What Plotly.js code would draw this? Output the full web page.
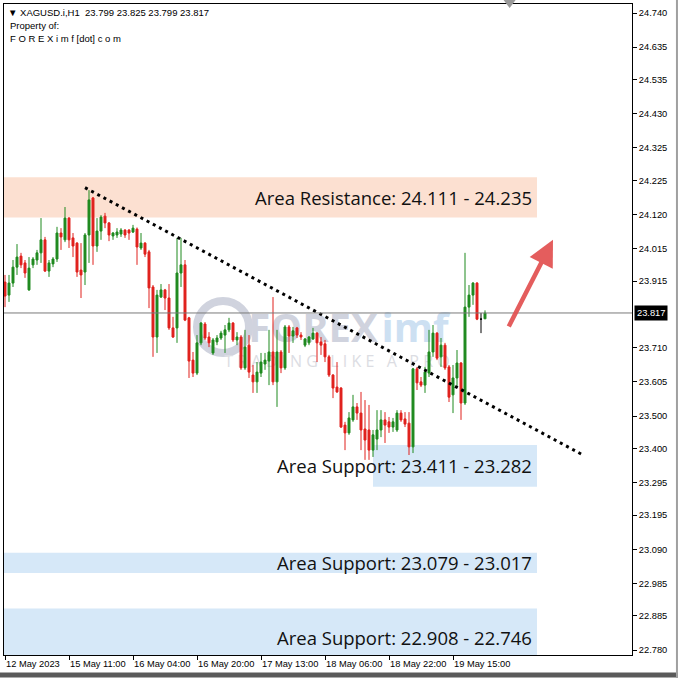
<!DOCTYPE html>
<html>
<head>
<meta charset="utf-8">
<script src="https://cdn.plot.ly/plotly-3.0.1.min.js"></script>
<style>html,body{margin:0;padding:0;background:#fff}#chart{width:678px;height:678px}</style>
</head>
<body>
<div id="chart"></div>
<script>
// ---- data (XAGUSD.i, H1) ----
const symbol = "XAGUSD.i,H1";
const open = [23.912,23.872,23.909,23.958,23.992,23.971,23.888,23.965,23.980,24.002,
24.042,23.946,23.968,23.983,24.063,24.042,24.109,24.048,24.032,23.949,
23.943,24.057,24.171,24.023,24.069,24.115,24.094,24.054,24.057,24.060,
24.072,24.072,24.066,24.075,24.017,24.032,24.005,23.897,23.743,23.866,
23.888,23.863,23.771,23.771,23.940,23.965,23.802,23.672,23.632,23.725,
23.783,23.743,23.694,23.728,23.740,23.749,23.765,23.786,23.734,23.743,
23.648,23.718,23.626,23.605,23.632,23.660,23.669,23.697,23.605,23.697,
23.648,23.774,23.746,23.771,23.749,23.718,23.725,23.737,23.755,23.728,
23.722,23.682,23.626,23.589,23.586,23.472,23.448,23.488,23.528,23.509,
23.460,23.457,23.395,23.429,23.457,23.488,23.482,23.466,23.457,23.509,
23.491,23.478,23.405,23.645,23.605,23.595,23.632,23.697,23.755,23.682,
23.718,23.651,23.565,23.617,23.663,23.540,23.835,23.872,23.909,23.798,
23.799];
const high = [23.934,23.934,23.980,24.029,24.002,23.980,23.989,23.989,24.011,24.109,
24.051,23.980,23.989,24.082,24.078,24.143,24.112,24.063,24.035,24.032,
24.063,24.195,24.174,24.109,24.118,24.125,24.097,24.066,24.078,24.078,
24.075,24.075,24.088,24.080,24.063,24.035,24.011,23.903,23.888,23.906,
23.891,23.906,23.805,24.048,24.048,23.980,23.805,23.697,23.749,23.789,
23.789,23.758,23.740,23.749,23.762,23.780,23.802,23.789,23.758,23.749,
23.765,23.749,23.657,23.666,23.694,23.694,23.765,23.866,23.765,23.703,
23.780,23.780,23.774,23.774,23.758,23.740,23.746,23.771,23.758,23.743,
23.734,23.688,23.629,23.666,23.589,23.482,23.512,23.565,23.540,23.574,
23.549,23.534,23.457,23.518,23.518,23.512,23.497,23.494,23.518,23.518,
23.512,23.512,23.648,23.651,23.620,23.651,23.765,23.780,23.758,23.740,
23.725,23.657,23.657,23.703,23.666,24.002,23.903,23.912,23.912,23.817,
23.825];
const low = [23.835,23.851,23.897,23.934,23.955,23.925,23.885,23.955,23.965,23.971,
23.943,23.928,23.958,23.974,24.011,24.035,24.017,23.989,23.928,23.863,
23.903,23.971,23.965,24.005,24.042,24.078,24.038,24.042,24.048,24.051,
24.048,24.042,24.063,23.965,24.011,23.989,23.832,23.682,23.694,23.863,
23.826,23.765,23.740,23.725,23.897,23.792,23.617,23.620,23.626,23.718,
23.734,23.712,23.688,23.718,23.734,23.694,23.758,23.728,23.718,23.642,
23.642,23.617,23.571,23.571,23.620,23.642,23.595,23.595,23.528,23.632,
23.642,23.694,23.725,23.740,23.734,23.712,23.718,23.734,23.666,23.688,
23.666,23.620,23.555,23.571,23.463,23.395,23.442,23.482,23.488,23.395,
23.365,23.365,23.374,23.395,23.435,23.417,23.448,23.451,23.451,23.482,
23.466,23.380,23.386,23.580,23.589,23.571,23.620,23.682,23.672,23.651,
23.642,23.543,23.509,23.589,23.488,23.534,23.805,23.842,23.795,23.755,
23.799];
const close = [23.869,23.909,23.958,23.989,23.965,23.940,23.955,23.983,24.002,24.042,
23.946,23.971,23.983,24.063,24.051,24.109,24.042,24.023,23.943,23.934,
24.057,24.165,24.023,24.069,24.112,24.094,24.057,24.063,24.066,24.072,
24.057,24.063,24.078,24.020,24.032,23.998,23.894,23.743,23.872,23.888,
23.863,23.771,23.743,23.940,23.965,23.795,23.669,23.632,23.725,23.786,
23.740,23.725,23.734,23.740,23.755,23.765,23.786,23.734,23.743,23.648,
23.712,23.635,23.605,23.635,23.666,23.672,23.697,23.605,23.697,23.648,
23.774,23.746,23.762,23.749,23.743,23.737,23.743,23.755,23.725,23.718,
23.682,23.626,23.586,23.574,23.466,23.448,23.494,23.528,23.509,23.457,
23.426,23.395,23.442,23.457,23.488,23.472,23.466,23.482,23.509,23.488,
23.475,23.405,23.645,23.602,23.595,23.635,23.697,23.755,23.678,23.718,
23.648,23.558,23.617,23.663,23.540,23.835,23.872,23.909,23.798,23.798,
23.817];
// time axis labels (bar index -> label)
const tickBars = [0,16,32,48,64,80,96,112];
const tickLabels = ["12 May 2023","15 May 11:00","16 May 04:00","16 May 20:00","17 May 13:00","18 May 06:00","18 May 22:00","19 May 15:00"];
// price axis labels
const priceTicks = [24.740,24.635,24.535,24.430,24.325,24.225,24.120,24.015,23.915,23.710,23.605,23.500,23.400,23.295,23.195,23.090,22.985,22.885,22.780];
const currentPrice = 23.817;
// zones
const zoneNames = ["Area Resistance","Area Support","Area Support","Area Support"];
const zoneFrom = [24.111, 23.411, 23.079, 22.908];
const zoneTo   = [24.235, 23.282, 23.017, 22.746];
// trend line (bar, price)
const trendBars = [20, 144.5];
const trendPrices = [24.2025, 23.380];
// projection arrow (bar, price)
const arrowBars = [125.75, 137];
const arrowPrices = [23.771, 24.042];

// ---- build ----
const idx = open.map((_, i) => i);
const norm = idx.filter(i => open[i] !== close[i]);
const doji = idx.filter(i => open[i] === close[i]);
const pick = (arr, ids) => ids.map(i => arr[i]);

const GREEN = '#1f8a1f', RED = '#e0211d';
const traces = [
  {type:'candlestick', x: norm, open: pick(open,norm), high: pick(high,norm), low: pick(low,norm), close: pick(close,norm),
   increasing:{line:{color:GREEN,width:1}, fillcolor:GREEN},
   decreasing:{line:{color:RED,width:1}, fillcolor:RED},
   whiskerwidth:0, hoverinfo:'skip', showlegend:false},
  {type:'candlestick', x: doji, open: pick(open,doji), high: pick(high,doji), low: pick(low,doji), close: pick(close,doji),
   increasing:{line:{color:'#000',width:1}, fillcolor:'#000'},
   decreasing:{line:{color:'#000',width:1}, fillcolor:'#000'},
   whiskerwidth:0, hoverinfo:'skip', showlegend:false},
  {type:'scatter', mode:'lines', x: trendBars, y: trendPrices,
   line:{color:'#000', width:3, dash:'3px,4px'}, hoverinfo:'skip', showlegend:false}
];

const zoneStart = [-2, 92, -2, -2];
const zoneEnd = 133;
const shapes = [];
zoneNames.forEach((n, i) => {
  shapes.push({type:'rect', layer:'below', xref:'x', yref:'y',
    x0: zoneStart[i], x1: zoneEnd,
    y0: Math.min(zoneFrom[i], zoneTo[i]), y1: Math.max(zoneFrom[i], zoneTo[i]),
    fillcolor: n.indexOf('Resistance') >= 0 ? '#fce0d1' : '#d6e8f8', line:{width:0}});
});
// watermark (below candles)
const WM = '#d0d3de';
shapes.push({type:'circle', layer:'below', xref:'x', yref:'y', x0:48, x1:61, y0:23.694, y1:23.854, line:{color:WM, width:8}});
shapes.push({type:'rect', layer:'below', xref:'x', yref:'y', x0:60, x1:94, y0:23.72, y1:23.81, line:{width:0}, fillcolor:'rgba(0,0,0,0)',
  label:{text:'<b>FOREX</b>', font:{family:'Open Sans', size:40, color:WM}, textposition:'middle center'}});
shapes.push({type:'rect', layer:'below', xref:'x', yref:'y', x0:94, x1:111, y0:23.72, y1:23.81, line:{width:0}, fillcolor:'rgba(0,0,0,0)',
  label:{text:'<b>imf</b>', font:{family:'Open Sans', size:40, color:'#cde0f2'}, textposition:'middle center'}});
shapes.push({type:'rect', layer:'below', xref:'x', yref:'y', x0:56, x1:110, y0:23.64, y1:23.69, line:{width:0}, fillcolor:'rgba(0,0,0,0)',
  label:{text:'T R A D I N G   L I K E   A   P R O', font:{family:'Open Sans', size:16, color:'#dcdde3'}, textposition:'middle center'}});
// current price line
shapes.push({type:'line', layer:'above', xref:'paper', yref:'y', x0:0, x1:1, y0:currentPrice, y1:currentPrice, line:{color:'#7a7a7a', width:1}});
// MT4 shift marker at top
shapes.push({type:'path', layer:'above', xref:'paper', yref:'paper',
  path:'M 0.7955 1.0061 L 0.8147 1.0061 L 0.8051 0.9939 Z', fillcolor:'#9a9a9a', line:{width:0}});
// outer frame
shapes.push({type:'line', xref:'paper', yref:'paper', x0:-0.01, x1:1.08, y0:-0.0307, y1:-0.0307, line:{color:'#5a5a5a', width:5}});
shapes.push({type:'line', xref:'paper', yref:'paper', x0:1.0716, x1:1.0716, y0:-0.04, y1:1.01, line:{color:'#a0a0a0', width:2}});

const annotations = [];
zoneNames.forEach((n, i) => {
  const mid = (zoneFrom[i] + zoneTo[i]) / 2;
  annotations.push({xref:'x', yref:'y', x:132.3, xanchor:'right', y: i === 3 ? 22.820 : mid, yanchor:'middle',
    text: n + ': ' + zoneFrom[i].toFixed(3) + ' - ' + zoneTo[i].toFixed(3), showarrow:false,
    font:{family:'Open Sans', size:18.5, color:'#111'}});
});
annotations.push({xref:'x', yref:'y', x:arrowBars[1], y:arrowPrices[1], ax:arrowBars[0], ay:arrowPrices[0],
  axref:'x', ayref:'y', text:'', showarrow:true, arrowhead:2, arrowsize:1.15, arrowwidth:4.5, arrowcolor:'rgba(226,80,80,0.92)'});
const n = open.length - 1;
annotations.push({xref:'paper', yref:'paper', x:0, y:1, xanchor:'left', yanchor:'top', xshift:2, yshift:-1, align:'left', showarrow:false,
  text: '▼ ' + symbol + '  ' + open[n].toFixed(3) + ' ' + high[n].toFixed(3) + ' ' + low[n].toFixed(3) + ' ' + close[n].toFixed(3),
  font:{family:'Liberation Sans', size:9.5, color:'#000'}});
annotations.push({xref:'paper', yref:'paper', x:0, y:1, xanchor:'left', yanchor:'top', xshift:4, yshift:-14, align:'left', showarrow:false,
  text:'Property of:', font:{family:'Liberation Sans', size:9.5, color:'#000'}});
annotations.push({xref:'paper', yref:'paper', x:0, y:1, xanchor:'left', yanchor:'top', xshift:4, yshift:-27, align:'left', showarrow:false,
  text:'F O R E X i m f [dot] c o m', font:{family:'Liberation Sans', size:9.5, color:'#000'}});
annotations.push({xref:'paper', yref:'y', x:1, y:currentPrice, xanchor:'left', yanchor:'middle', xshift:2, showarrow:false,
  text: currentPrice.toFixed(3), bgcolor:'#000', borderpad:2, font:{family:'Liberation Sans', size:9.3, color:'#fff'}});

const layout = {
  width:678, height:678, margin:{l:4, r:46, t:4, b:23},
  paper_bgcolor:'#fff', plot_bgcolor:'#fff', showlegend:false,
  xaxis:{range:[-0.25, 156.75], tickmode:'array', tickvals:tickBars, ticktext:tickLabels, tickangle:0,
    ticks:'outside', ticklen:4, tickcolor:'#000', showline:true, mirror:true, linecolor:'#000', linewidth:1,
    showgrid:false, zeroline:false, rangeslider:{visible:false}, ticklabelposition:'outside right',
    tickfont:{family:'Liberation Sans', size:9.3, color:'#000'}, fixedrange:true},
  yaxis:{side:'right', range:[22.7646, 24.7677], tickmode:'array', tickvals:priceTicks, tickformat:'.3f',
    ticks:'outside', ticklen:4, tickcolor:'#000', showline:true, mirror:true, linecolor:'#000', linewidth:1,
    showgrid:false, zeroline:false, tickfont:{family:'Liberation Sans', size:9.3, color:'#000'}, fixedrange:true},
  shapes: shapes, annotations: annotations
};
Plotly.newPlot('chart', traces, layout, {displayModeBar:false, staticPlot:true});
</script>
</body>
</html>
